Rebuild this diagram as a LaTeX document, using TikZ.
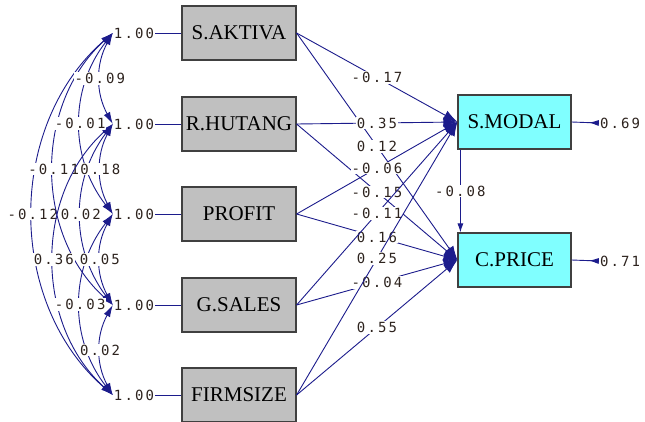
\documentclass[tikz,border=0pt]{standalone}
\usepackage{fontspec}
\setmainfont{Liberation Serif}
\newfontfamily\numfont[LetterSpace=15]{DejaVu Sans Mono}
\usepackage{xcolor}
\usetikzlibrary{arrows.meta,positioning}
\definecolor{pathblue}{RGB}{28,28,140}
\definecolor{boxgray}{RGB}{192,192,192}
\definecolor{boxcyan}{RGB}{128,255,255}
\definecolor{numcol}{RGB}{45,35,30}

\begin{document}
\begin{tikzpicture}[x=1pt, y=1pt,
  var/.style={draw=black!75, line width=1.2pt, fill=boxgray, minimum width=114pt, minimum height=54pt, font=\fontsize{21}{22}\selectfont, inner sep=0pt},
  endo/.style={var, fill=boxcyan, minimum width=113pt},
  num/.style={font=\numfont\fontsize{14}{15}\selectfont, text=numcol, inner sep=1pt},
  lab/.style={num, fill=white},
  ln/.style={draw=pathblue, line width=0.9pt},
  arr/.style={ln, -{Latex[length=14pt, width=10pt]}},
  beta/.style={ln, -{Latex[length=9pt, width=6pt]}},
  cov/.style={ln, {Latex[length=12pt, width=7pt]}-{Latex[length=12pt, width=7pt]}},
  err/.style={ln, -{Latex[reversed, length=10pt, width=6pt]}}
]
\fill[white] (0,0) rectangle (645,-422);
\clip (0,0) rectangle (645,-422);
% exogenous variables
\node[var] (sa) at (239,-33) {S.AKTIVA};
\node[var] (rh) at (239,-124) {R.HUTANG};
\node[var] (pr) at (239,-214) {PROFIT};
\node[var] (gs) at (239,-305) {G.SALES};
\node[var] (fs) at (239,-395) {FIRMSIZE};
% endogenous variables
\node[endo] (sm) at (514.5,-122) {S.MODAL};
\node[endo] (cp) at (514.5,-260) {C.PRICE};
% variances
\node[num] (v1) at (134,-33) {1.00};
\node[num] (v2) at (134,-124) {1.00};
\node[num] (v3) at (134,-214) {1.00};
\node[num] (v4) at (134,-305) {1.00};
\node[num] (v5) at (134,-395) {1.00};
\draw[ln] (v1.east) -- (sa.west);
\draw[ln] (v2.east) -- (rh.west);
\draw[ln] (v3.east) -- (pr.west);
\draw[ln] (v4.east) -- (gs.west);
\draw[ln] (v5.east) -- (fs.west);
% covariances
\draw[cov] (v1.west) to[bend right=49] node[lab] {-0.12} (v5.west);
\draw[cov] (v1.west) to[bend right=48] node[lab] {-0.11} (v4.west);
\draw[cov] (v2.west) to[bend right=48] node[lab] {0.36} (v5.west);
\draw[cov] (v1.west) to[bend right=38] node[lab] {-0.01} (v3.west);
\draw[cov] (v2.west) to[bend right=37] node[lab] {0.02} (v4.west);
\draw[cov] (v3.west) to[bend right=38] node[lab] {-0.03} (v5.west);
\draw[cov] (v1.west) to[bend right=29] node[lab] {-0.09} (v2.west);
\draw[cov] (v2.west) to[bend right=28] node[lab] {0.18} (v3.west);
\draw[cov] (v3.west) to[bend right=29] node[lab] {0.05} (v4.west);
\draw[cov] (v4.west) to[bend right=29] node[lab] {0.02} (v5.west);
% paths
\draw[arr] (sa.east) -- node[lab] {-0.17} (sm.west);
\draw[arr] (sa.east) -- node[lab] {0.12} (cp.west);
\draw[arr] (rh.east) -- node[lab] {0.35} (sm.west);
\draw[arr] (rh.east) -- node[lab] {-0.15} (cp.west);
\draw[arr] (pr.east) -- node[lab] {-0.06} (sm.west);
\draw[arr] (pr.east) -- node[lab] {0.16} (cp.west);
\draw[arr] (gs.east) -- node[lab] {-0.11} (sm.west);
\draw[arr] (gs.east) -- node[lab] {-0.04} (cp.west);
\draw[arr] (fs.east) -- node[lab] {0.25} (sm.west);
\draw[arr] (fs.east) -- node[lab] {0.55} (cp.west);
\draw[beta] ([xshift=3pt]sm.south west) -- node[lab] {-0.08} ([xshift=3pt]cp.north west);
% errors
\node[num] (e1) at (620,-123) {0.69};
\node[num] (e2) at (620,-261) {0.71};
\draw[err] (sm.east) -- (e1.west);
\draw[err] (cp.east) -- (e2.west);
\end{tikzpicture}
\end{document}
